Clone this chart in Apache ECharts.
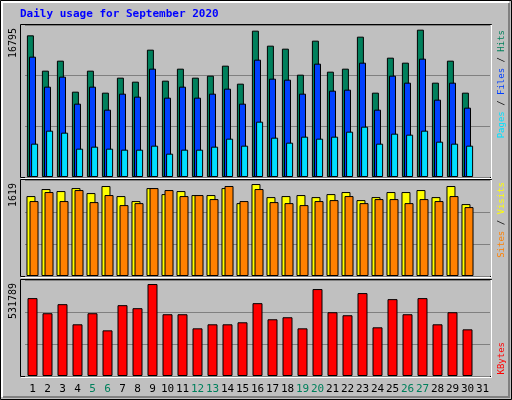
<!DOCTYPE html>
<html><head><meta charset="utf-8">
<script src="https://cdn.jsdelivr.net/npm/echarts@6/dist/echarts.min.js"></script>
<style>html,body{margin:0;padding:0;background:#c0c0c0}#c{width:512px;height:400px}</style>
</head><body><div id="c"></div>
<script>
var days = ['1','2','3','4','5','6','7','8','9','10','11','12','13','14','15','16','17','18','19','20','21','22','23','24','25','26','27','28','29','30','31'];
var weekend = ['5','6','12','13','19','20','26','27'];
var hits = [16150,12122,13262,9728,12122,9614,11324,10868,14516,10982,12350,11324,11552,12692,10640,16682,14972,14630,11666,15542,12008,12350,15998,9614,13604,13034,16795,10754,13262,9614,null];
var files = [13718,10298,11438,8360,10298,7676,9500,9158,12350,9044,10298,9044,9500,10070,8360,13376,11210,11096,9500,12920,9842,9956,13034,7676,11552,10754,13490,8816,10754,7904,null];
var pages = [3800,5282,5054,3230,3458,3230,3116,3116,3572,2660,3116,3116,3458,4370,3572,6308,4484,3914,4598,4370,4598,5168,5738,3800,4940,4826,5282,4028,3800,3572,null];
var visits = [1407,1531,1495,1548,1460,1584,1407,1319,1548,1442,1495,1425,1425,1548,1283,1619,1389,1407,1425,1389,1442,1478,1336,1389,1478,1478,1513,1389,1584,1266,null];
var sites = [1319,1478,1319,1513,1301,1425,1248,1283,1548,1513,1407,1425,1354,1584,1319,1531,1301,1283,1248,1319,1336,1407,1283,1354,1354,1283,1354,1319,1407,1213,null];
var kbytes = [450312,362967,415374,298914,362967,263976,409551,392082,531789,357144,357144,275622,298914,298914,310560,421197,328029,339675,275622,502719,368790,351321,479427,281445,444489,357144,450312,298914,368790,269799,null];
var maxLabels = ['16795','1619','531789'];

var font = '"DejaVu Sans Mono", monospace';
var grids = [{top:25,height:152},{top:180,height:96},{top:280,height:96}];
var ymax = [17328, 1690, 555100];
var chart = echarts.init(document.getElementById('c'));

function bar(name, data, color, idx, w, gap) {
    return {type:'bar', name:name, data:data, xAxisIndex:idx, yAxisIndex:idx,
        barWidth:w, barGap:gap, animation:false,
        itemStyle:{color:color, borderColor:'#000', borderWidth:1}};
}
function vtext(x, y, parts) {
    // rotated legend text, reading bottom to top
    return {type:'text', x:x, y:y, rotation:Math.PI/2,
        style:{text:parts.map(function(p){return '{'+p[1]+'|'+p[0]+'}';}).join(''),
            rich:{g:{fill:'#00805c'},b:{fill:'#0040ff'},c:{fill:'#00e0ff'},y:{fill:'#ffff00'},o:{fill:'#ff8000'},r:{fill:'#ff0000'},k:{fill:'#000'}},
            font:'9px '+font, align:'right', verticalAlign:'top'}};
}

var graphics = [
    {type:'rect', shape:{x:0.5,y:0.5,width:511,height:399}, style:{fill:'#c0c0c0',stroke:'#000'}, z:-10},
    {type:'polyline', shape:{points:[[2,397],[2,2],[509,2]]}, style:{stroke:'#fff',lineWidth:2,fill:null}, z:-9},
    {type:'polyline', shape:{points:[[3,397],[509,397],[509,3]]}, style:{stroke:'#808080',lineWidth:2,fill:null}, z:-9},
    {type:'text', x:20, y:9, style:{text:'Daily usage for September 2020', font:'bold 11px '+font, fill:'#0000ff'}}
];
grids.forEach(function(g, i) {
    graphics.push({type:'rect', shape:{x:20.5,y:g.top-0.5,width:471,height:g.height+1},
        style:{fill:null, stroke:'#000'}, z:-1});
    graphics.push({type:'polyline', shape:{points:[[21,g.top+g.height+1.5],[491.5,g.top+g.height+1.5],[491.5,g.top]]},
        style:{fill:null, stroke:'#fff'}, z:-1});
    graphics.push({type:'text', x:8, y:g.top+3, rotation:Math.PI/2,
        style:{text:maxLabels[i], font:'10px '+font, fill:'#000', align:'right', verticalAlign:'top'}});
});
graphics.push(vtext(497, 30, [['Pages','c'],[' / ','k'],['Files','b'],[' / ','k'],['Hits','g']]));
graphics.push(vtext(497, 182, [['Sites','o'],[' / ','k'],['Visits','y']]));
graphics.push(vtext(497, 342, [['KBytes','r']]));

chart.setOption({
    backgroundColor:'#c0c0c0',
    graphic: graphics,
    grid: grids.map(function(g){return {left:25,width:465,top:g.top,height:g.height};}),
    xAxis: [0,1,2].map(function(i){
        return {type:'category', data:days, gridIndex:i,
            axisLine:{show:false}, axisTick:{show:false},
            axisLabel:{show:i===2, margin:8, interval:0, fontFamily:font, fontSize:11,
                color:function(v){return weekend.indexOf(v)>=0 ? '#00805c' : '#000';}}};
    }),
    yAxis: [0,1,2].map(function(i){
        return {type:'value', gridIndex:i, min:0, max:ymax[i], interval:ymax[i]/3,
            axisLabel:{show:false}, axisLine:{show:false}, axisTick:{show:false},
            splitLine:{lineStyle:{color:'#808080', width:1}}};
    }),
    series: [
        bar('Hits', hits, '#00805c', 0, 7, '-70%'),
        bar('Files', files, '#0040ff', 0, 7, '-70%'),
        bar('Pages', pages, '#00e0ff', 0, 7, '-70%'),
        bar('Visits', visits, '#ffff00', 1, 9, '-66%'),
        bar('Sites', sites, '#ff8000', 1, 9, '-66%'),
        bar('KBytes', kbytes, '#ff0000', 2, 10, '0%')
    ]
});
</script></body></html>
